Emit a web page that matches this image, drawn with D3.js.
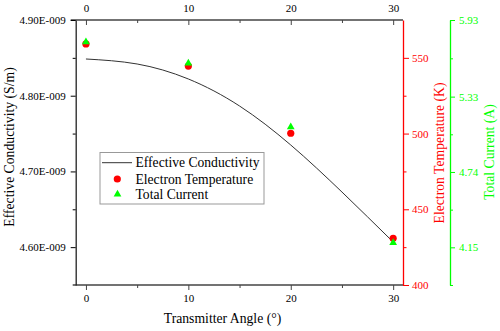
<!DOCTYPE html>
<html lang="en">
<head>
<meta charset="UTF-8">
<title>Conductivity vs Transmitter Angle</title>
<script src="https://d3js.org/d3.v7.min.js"></script>
<style>
    body { margin: 0; padding: 0; background: #fff; }
    svg { display: block; }
    svg text { font-family: "Liberation Serif", "Times New Roman", serif; }
    .axis text { font-size: 11px; }
    .axis-title { font-size: 13.7px; }
    .legend text { font-size: 13.6px; }
</style>
</head>
<body>
<svg width="500" height="331"></svg>
<script>
// Data
const angles = [0, 10, 20, 30];
const curveAngles = [0, 5, 10, 15, 20, 25, 30];
const conductivity = [4.8485e-9, 4.8419e-9, 4.8221e-9, 4.7864e-9, 4.7349e-9, 4.6728e-9, 4.6068e-9];
const electronTemp = [559.2, 544.6, 500.2, 430.8];
const totalCurrent = [5.758, 5.591, 5.092, 4.186];

const angleTicks = [0, 10, 20, 30];
const angleMinor = [5, 15, 25];
const condTicks = [4.6e-9, 4.7e-9, 4.8e-9, 4.9e-9];
const condMinor = [4.65e-9, 4.75e-9, 4.85e-9];
const tempTicks = [400, 450, 500, 550];
const tempMinor = [425, 475, 525];
const currentTicks = [4.15, 4.74, 5.33, 5.93];
const currentMinor = [3.855, 4.445, 5.035, 5.63];

const svg = d3.select("svg");
const plotL = 75.7, plotR = 403, plotT = 20, plotB = 285;

const x = d3.scaleLinear().domain([-1, 31]).range([plotL, plotR + 0.4]);
const yCond = d3.scaleLinear().domain([4.55e-9, 4.90e-9]).range([plotB, plotT]);
const yTemp = d3.scaleLinear().domain([400, 575]).range([plotB, plotT]);
const yCur = d3.scaleLinear().domain([3.855, 5.93]).range([plotB, plotT]);

const fmtCond = d => (d * 1e9).toFixed(2) + "E-009";

function minorTicks(g, axis) {
    g.call(axis).call(s => s.selectAll("text").remove()).call(s => s.select(".domain").remove());
}

function colourAxis(gs, colour) {
    gs.forEach(g => {
        g.selectAll("line").attr("stroke", colour);
        g.selectAll("text").attr("fill", colour);
        g.select(".domain").attr("stroke", colour);
    });
}

// bottom axis
const gBottom = svg.append("g").attr("class", "axis").attr("transform", `translate(0,${plotB})`);
gBottom.call(d3.axisBottom(x).tickValues(angleTicks).tickSize(5).tickPadding(4).tickSizeOuter(0));
const gBottomMinor = svg.append("g").attr("class", "axis").attr("transform", `translate(0,${plotB})`)
    .call(minorTicks, d3.axisBottom(x).tickValues(angleMinor).tickSize(3));
gBottom.select(".domain").attr("d", `M${plotL - 3},0H${plotR}`);

// top axis (ticks point inward)
const gTop = svg.append("g").attr("class", "axis").attr("transform", `translate(0,${plotT})`);
gTop.call(d3.axisTop(x).tickValues(angleTicks).tickSizeInner(-5).tickSizeOuter(0).tickPadding(8));
const gTopMinor = svg.append("g").attr("class", "axis").attr("transform", `translate(0,${plotT})`)
    .call(minorTicks, d3.axisTop(x).tickValues(angleMinor).tickSizeInner(-3));
gTop.select(".domain").attr("d", `M${plotL - 5},0H${plotR}`);

colourAxis([gBottom, gBottomMinor, gTop, gTopMinor], "#444");
gBottom.selectAll("text").attr("fill", "#000");
gTop.selectAll("text").attr("fill", "#000");
gBottom.select(".domain").attr("stroke-width", 1.5);
gTop.select(".domain").attr("stroke-width", 1.5);

// left axis
const gLeft = svg.append("g").attr("class", "axis").attr("transform", `translate(${plotL},0)`);
gLeft.call(d3.axisLeft(yCond).tickValues(condTicks).tickFormat(fmtCond).tickSize(5).tickPadding(5).tickSizeOuter(0));
svg.append("g").attr("class", "axis").attr("transform", `translate(${plotL},0)`)
    .call(minorTicks, d3.axisLeft(yCond).tickValues(condMinor).tickSize(3));
gLeft.select(".domain").attr("stroke", "#222").attr("stroke-width", 1.3);

// right axis: electron temperature
const gTemp = svg.append("g").attr("class", "axis").attr("transform", `translate(${plotR},0)`);
gTemp.call(d3.axisRight(yTemp).tickValues(tempTicks).tickSize(6).tickPadding(3).tickSizeOuter(0));
const gTempMinor = svg.append("g").attr("class", "axis").attr("transform", `translate(${plotR},0)`)
    .call(minorTicks, d3.axisRight(yTemp).tickValues(tempMinor).tickSize(3.5));
colourAxis([gTemp, gTempMinor], "#f00");
gTemp.select(".domain").attr("stroke-width", 1.3);

// far right axis: total current
const curX = 450;
const gCur = svg.append("g").attr("class", "axis").attr("transform", `translate(${curX},0)`);
gCur.call(d3.axisRight(yCur).tickValues(currentTicks).tickFormat(d3.format(".2f")).tickSize(5).tickPadding(4).tickSizeOuter(0));
const gCurMinor = svg.append("g").attr("class", "axis").attr("transform", `translate(${curX},0)`)
    .call(minorTicks, d3.axisRight(yCur).tickValues(currentMinor).tickSize(3));
colourAxis([gCur, gCurMinor], "#0f0");
gCur.select(".domain").attr("stroke-width", 1.3);

svg.selectAll(".axis").attr("font-family", null).attr("font-size", null);

// axis titles
svg.append("text").attr("class", "axis-title")
    .attr("transform", "translate(13.5,147) rotate(-90)")
    .attr("text-anchor", "middle").attr("fill", "#000")
    .text("Effective Conductivity (S/m)");
svg.append("text").attr("class", "axis-title")
    .attr("transform", "translate(444,153) rotate(-90)")
    .attr("text-anchor", "middle").attr("fill", "#f00")
    .text("Electron Temperature (K)");
svg.append("text").attr("class", "axis-title")
    .attr("transform", "translate(493.5,152) rotate(-90)")
    .attr("text-anchor", "middle").attr("fill", "#0f0")
    .text("Total Current (A)");
svg.append("text").attr("class", "axis-title")
    .attr("x", 222.5).attr("y", 323)
    .attr("text-anchor", "middle").attr("fill", "#000")
    .text("Transmitter Angle (°)");

// conductivity curve
const line = d3.line()
    .x((d, i) => x(curveAngles[i]))
    .y(d => yCond(d))
    .curve(d3.curveNatural);
svg.append("path")
    .attr("d", line(conductivity))
    .attr("fill", "none")
    .attr("stroke", "#333")
    .attr("stroke-width", 1);

// electron temperature points
svg.append("g").selectAll("circle")
    .data(electronTemp)
    .join("circle")
    .attr("cx", (d, i) => x(angles[i]))
    .attr("cy", d => yTemp(d))
    .attr("r", 3.6)
    .attr("fill", "#f00");

// total current points
const tri = d3.symbol().type(d3.symbolTriangle).size(26);
svg.append("g").selectAll("path")
    .data(totalCurrent)
    .join("path")
    .attr("d", tri)
    .attr("transform", (d, i) => `translate(${x(angles[i])},${yCur(d)})`)
    .attr("fill", "#0f0");

// Legend
const legend = svg.append("g").attr("class", "legend");
legend.append("rect")
    .attr("x", 100).attr("y", 152.5).attr("width", 164).attr("height", 51.5)
    .attr("fill", "#fff").attr("stroke", "#999").attr("stroke-width", 1);
legend.append("line")
    .attr("x1", 102).attr("x2", 132).attr("y1", 162.7).attr("y2", 162.7)
    .attr("stroke", "#333").attr("stroke-width", 1);
legend.append("circle").attr("cx", 117.3).attr("cy", 179).attr("r", 3.6).attr("fill", "#f00");
legend.append("path").attr("d", tri).attr("transform", "translate(117.5,194.3)").attr("fill", "#0f0");
const labels = ["Effective Conductivity", "Electron Temperature", "Total Current"];
const rowY = [162.7, 179, 194.5];
legend.selectAll("text")
    .data(labels)
    .join("text")
    .attr("x", 135.5)
    .attr("y", (d, i) => rowY[i])
    .attr("dy", "0.35em")
    .attr("fill", "#000")
    .text(d => d);
</script>
</body>
</html>
